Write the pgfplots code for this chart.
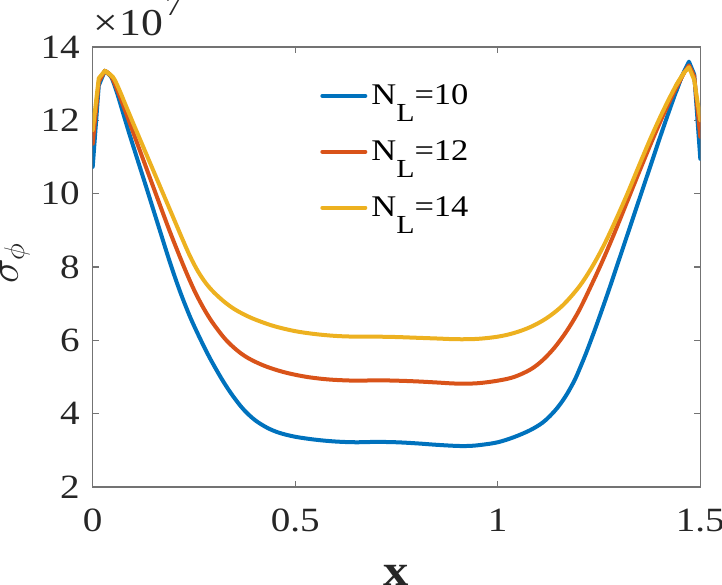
\documentclass[border=0pt]{standalone}
\usepackage{fontspec}
\setmainfont{Liberation Serif}[FakeStretch=1.15]
\usepackage{pgfplots}
\pgfplotsset{compat=1.18}
\definecolor{mblue}{rgb}{0,0.447,0.741}
\definecolor{morange}{rgb}{0.850,0.325,0.098}
\definecolor{myellow}{rgb}{0.929,0.694,0.125}
\newcommand{\NL}{N\raisebox{-8.5pt}{\fontsize{13}{13}\selectfont L}}
\begin{document}
\begin{tikzpicture}
\begin{axis}[
  name=ax,
  at={(0,0)}, anchor=south west,
  scale only axis, width=303.8pt, height=220pt,
  xmin=0, xmax=1.5, ymin=2, ymax=14,
  xtick={0,0.5,1,1.5}, ytick={2,4,6,8,10,12,14},
  xticklabels={0,0.5,1,1.5},
  yticklabels={2,4,6,8,10,12,14},
  scaled y ticks=false,
  /pgf/number format/assume math mode=true,
  ticklabel style={font=\fontsize{17}{17}\selectfont, text=black!85},
  yticklabel style={inner sep=0pt, xshift=-6.3pt},
  xticklabel style={inner sep=0pt, yshift=-10.7pt},
  axis line style={draw=black!55, line width=0.6pt},
  tick style={draw=black!55, line width=0.6pt},
  major tick length=3pt,
  tick align=inside,
  legend cell align=left,
  legend style={at={(rel axis cs:0.374,0.925)}, anchor=north west, draw=none, fill=none,
    inner sep=0pt, font=\fontsize{15}{15}\selectfont, row sep=12.5pt},
  legend image code/.code={\draw[#1, line width=2pt] (0pt,0pt) -- (21.5pt,0pt);},
  every axis plot/.append style={line width=2pt, line join=round, line cap=round},
]
% ---- N_L = 10
\addplot[mblue] coordinates {
(0,10.73) (0.015,12.95) (0.03,13.35) (0.045,13.2)
};
\addlegendentry{\NL=10}
\addplot[mblue, smooth, tension=0.55, forget plot] coordinates {
(0.03,13.35) (0.045,13.2) (0.06,12.75) (0.075,12.2) (0.09,11.65) (0.11,10.95) (0.133,10.15) (0.16,9.2) (0.19,8.15) (0.215,7.35) (0.24,6.65) (0.265,6.05) (0.29,5.5) (0.32,4.92) (0.345,4.5) (0.372,4.12) (0.40,3.83) (0.43,3.62) (0.46,3.48) (0.50,3.37) (0.55,3.29) (0.60,3.24) (0.65,3.22) (0.70,3.23) (0.75,3.22) (0.80,3.19) (0.85,3.15) (0.90,3.12) (0.93,3.12) (0.96,3.15) (1.00,3.22) (1.04,3.36) (1.08,3.55) (1.11,3.75) (1.13,3.95) (1.15,4.2) (1.17,4.52) (1.19,4.92) (1.205,5.3) (1.219,5.68) (1.24,6.3) (1.26,6.92) (1.28,7.56) (1.30,8.22) (1.32,8.88) (1.34,9.54) (1.36,10.2) (1.38,10.86) (1.40,11.52) (1.42,12.16) (1.44,12.78) (1.455,13.22)
};
\addplot[mblue, forget plot] coordinates {
(1.44,12.78) (1.455,13.22) (1.472,13.6) (1.485,13.25) (1.5,10.95)
};
% ---- N_L = 12
\addplot[morange] coordinates {
(0,11.36) (0.015,13.05) (0.03,13.35) (0.045,13.22)
};
\addlegendentry{\NL=12}
\addplot[morange, smooth, tension=0.55, forget plot] coordinates {
(0.03,13.35) (0.045,13.22) (0.06,12.85) (0.075,12.42) (0.09,11.97) (0.11,11.37) (0.13,10.77) (0.15,10.17) (0.17,9.57) (0.19,8.98) (0.21,8.42) (0.23,7.88) (0.25,7.38) (0.27,6.95) (0.29,6.58) (0.31,6.27) (0.33,6.0) (0.355,5.74) (0.38,5.54) (0.41,5.37) (0.44,5.24) (0.48,5.11) (0.53,5.0) (0.586,4.93) (0.65,4.9) (0.70,4.91) (0.75,4.9) (0.80,4.88) (0.85,4.85) (0.90,4.82) (0.95,4.83) (1.00,4.9) (1.04,5.0) (1.08,5.2) (1.11,5.45) (1.14,5.8) (1.17,6.25) (1.2,6.8) (1.23,7.48) (1.26,8.2) (1.29,8.98) (1.32,9.8) (1.35,10.62) (1.38,11.42) (1.41,12.18) (1.44,12.88) (1.46,13.3)
};
\addplot[morange, forget plot] coordinates {
(1.44,12.88) (1.46,13.3) (1.472,13.5) (1.485,13.2) (1.5,11.55)
};
% ---- N_L = 14
\addplot[myellow] coordinates {
(0,11.73) (0.015,13.15) (0.03,13.35) (0.05,13.18)
};
\addlegendentry{\NL=14}
\addplot[myellow, smooth, tension=0.55, forget plot] coordinates {
(0.03,13.35) (0.05,13.18) (0.065,12.85) (0.08,12.45) (0.1,11.92) (0.12,11.4) (0.14,10.88) (0.16,10.36) (0.18,9.84) (0.2,9.32) (0.22,8.8) (0.24,8.3) (0.26,7.88) (0.28,7.55) (0.3,7.3) (0.325,7.05) (0.35,6.85) (0.38,6.67) (0.41,6.53) (0.45,6.38) (0.50,6.25) (0.55,6.17) (0.60,6.12) (0.65,6.1) (0.70,6.1) (0.75,6.09) (0.80,6.07) (0.85,6.05) (0.90,6.03) (0.95,6.04) (1.00,6.1) (1.04,6.2) (1.08,6.36) (1.12,6.6) (1.16,6.95) (1.2,7.45) (1.23,7.95) (1.26,8.55) (1.29,9.25) (1.32,10.0) (1.35,10.8) (1.38,11.58) (1.41,12.3) (1.44,12.95) (1.46,13.3)
};
\addplot[myellow, forget plot] coordinates {
(1.44,12.95) (1.46,13.3) (1.472,13.45) (1.485,13.1) (1.5,12.0)
};
\end{axis}
\node[anchor=base west, inner sep=0pt, text=black!85, font=\fontsize{19}{19}\selectfont]
  at ([yshift=5.5pt]ax.north west) {×\hspace{1pt}10\hspace{1pt}\raisebox{10pt}{\fontsize{14}{14}\selectfont 7}};
\node[anchor=north, inner sep=0pt, font=\bfseries\fontsize{22}{22}\selectfont, text=black!85] at (151.9pt,-39pt) {x};
\node[rotate=90, anchor=center, inner sep=0pt, font=\fontsize{20}{20}\selectfont, text=black!85] at (-38.9pt,112pt) {$\sigma_{\phi}$};
\pgfresetboundingbox
\path (-46.35pt,-48.5pt) rectangle (314.65pt,243.5pt);
\end{tikzpicture}
\end{document}
